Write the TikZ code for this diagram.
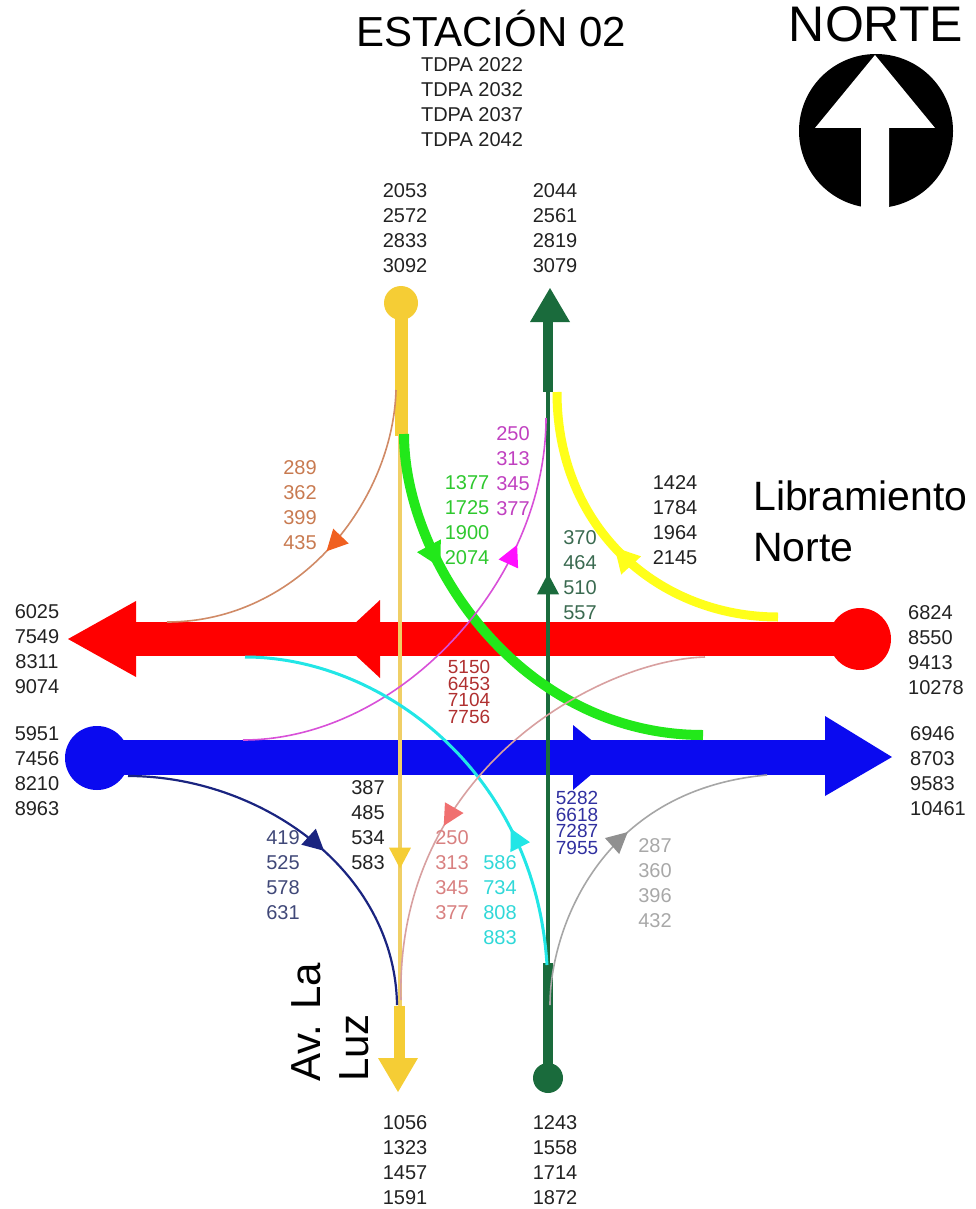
\documentclass[tikz,border=0pt]{standalone}
\usepackage{fontspec}
\setmainfont{Liberation Sans}
\usetikzlibrary{arrows.meta,decorations.markings}
\definecolor{cYel}{HTML}{F5CD35}
\definecolor{cYelT}{HTML}{F0CF66}
\definecolor{cDG}{HTML}{1A6B3C}
\definecolor{cRed}{HTML}{FF0000}
\definecolor{cBlue}{HTML}{0A0AF0}
\definecolor{cGrn}{HTML}{22E81A}
\definecolor{cYC}{HTML}{FFFF1A}
\definecolor{cOrL}{HTML}{D08A66}
\definecolor{cOrA}{HTML}{F06020}
\definecolor{cMagL}{HTML}{D850D8}
\definecolor{cMagA}{HTML}{FF10FF}
\definecolor{cCy}{HTML}{22E6E6}
\definecolor{cSalL}{HTML}{D8A0A0}
\definecolor{cSalA}{HTML}{F07070}
\definecolor{cNavy}{HTML}{1A2480}
\definecolor{cGryL}{HTML}{A6A6A6}
\definecolor{cGryA}{HTML}{909090}
\definecolor{cTxt}{HTML}{222222}
\definecolor{tOr}{HTML}{C87A50}
\definecolor{tGrn}{HTML}{2EC82E}
\definecolor{tMag}{HTML}{C040C0}
\definecolor{tDG}{HTML}{3A6A50}
\definecolor{tRed}{HTML}{B03030}
\definecolor{tBlue}{HTML}{3030A0}
\definecolor{tNavy}{HTML}{404878}
\definecolor{tSal}{HTML}{D88080}
\definecolor{tCy}{HTML}{30D8D8}
\definecolor{tGry}{HTML}{A8A8A8}
\tikzset{
  midarrow/.style n args={3}{postaction={decorate,decoration={markings,
     mark=at position #1 with {\arrow[#2]{Triangle[length=#3pt,width=#3pt]}}}}},
  num/.style={font=\fontsize{20}{25}\selectfont, align=center, inner sep=0pt, text=cTxt},
  numtight/.style={num, font=\fontsize{19}{16.6}\selectfont},
  bigtext/.style={inner sep=0pt, text=black}
}
\begin{document}
\begin{tikzpicture}[x=1pt,y=-1pt]
\useasboundingbox (0,0) rectangle (976,1209);

% ---------- titles ----------
\node[bigtext, font=\fontsize{42}{50}\selectfont, anchor=base] (title) at (491,47) {ESTACIÓN 02};
\node[num] (tdpa) at (472,102) {TDPA 2022\\TDPA 2032\\TDPA 2037\\TDPA 2042};
\node[bigtext, font=\fontsize{50}{60}\selectfont, anchor=base] (norte) at (876,42) {NORTE};
\fill[black] (876,131) circle (77);
\fill[white] (875,55) -- (815,128) -- (861,128) -- (861,209) -- (889,209) -- (889,128) -- (935,128) -- cycle;

% ---------- coordinates ----------
\coordinate (yTop) at (401,303);
\coordinate (ySplit) at (401,436);
\coordinate (yLow) at (399,1006);
\coordinate (gTop) at (548,322);
\coordinate (gSplit) at (548,392);
\coordinate (gLow) at (548,963);
\coordinate (gBot) at (548,1078);
\coordinate (rEast) at (860,639);
\coordinate (bWest) at (97,758);

% ---------- red (westbound) ----------
\fill[cRed] (120,622) rectangle (rEast |- 0,656);
\fill[cRed] (rEast) circle (31);
\fill[cRed] (136,601) -- (68,639) -- (136,677) -- cycle;
\fill[cRed] (380,600) -- (338,639) -- (380,678) -- cycle;

% ---------- blue (eastbound) ----------
\fill[cBlue] (bWest |- 0,740) rectangle (827,775);
\fill[cBlue] (bWest) circle (32);
\fill[cBlue] (825,716) -- (892,757) -- (825,796) -- cycle;
\fill[cBlue] (573,725) -- (612,757) -- (573,790) -- cycle;

% ---------- yellow (southbound) ----------
\fill[cYel] (yTop) circle (17);
\draw[cYel, line width=13] (yTop) -- (ySplit);
\draw[cYelT, line width=3.5, midarrow={0.76}{cYel}{21}] (400,434) -- (400,1006);
\draw[cYel, line width=11] (yLow) -- (399,1060);
\fill[cYel] (378,1058) -- (398,1092) -- (418,1058) -- cycle;

% ---------- dark green (northbound) ----------
\fill[cDG] (530,322) -- (550,288) -- (570,322) -- cycle;
\draw[cDG, line width=10] (gTop) -- (gSplit);
\draw[cDG, line width=4, midarrow={0.68}{cDG}{21}] (gLow) -- (548,390);
\draw[cDG, line width=10] (gLow) -- (gBot);
\fill[cDG] (gBot) circle (15);

% ---------- turning movements ----------
\draw[cOrL, line width=1.6, midarrow={0.5}{cOrA}{21}] (396,390) .. controls (393,500) and (300,622) .. (167,622);
\draw[cGrn, line width=10, midarrow={0.3}{cGrn}{25}] (404,434) .. controls (404,560) and (520,735) .. (703,735);
\draw[cYC, line width=9, midarrow={0.52}{cYC}{25}] (778,617) .. controls (660,617) and (557,530) .. (557,392);
\draw[cMagL, line width=1.6, midarrow={0.73}{cMagA}{21}] (243,740) .. controls (400,740) and (546,580) .. (546,418);
\draw[cCy, line width=3, midarrow={0.3}{cCy}{21}] (547,965) .. controls (535,770) and (380,657) .. (245,657);
\draw[cSalL, line width=1.6, midarrow={0.64}{cSalA}{21}] (705,657) .. controls (600,660) and (395,770) .. (401,1000);
\draw[cNavy, line width=2.2, midarrow={0.55}{cNavy}{21}] (128,776) .. controls (260,776) and (395,870) .. (397,1005);
\draw[cGryL, line width=1.6, midarrow={0.56}{cGryA}{21}] (550,1005) .. controls (550,930) and (600,790) .. (767,775);

% ---------- volumes ----------
\node[num] (nS) at (405,228) {2053\\2572\\2833\\3092};
\node[num] (nN) at (555,228) {2044\\2561\\2819\\3079};
\node[num] (sS) at (405,1160) {1056\\1323\\1457\\1591};
\node[num] (sN) at (555,1160) {1243\\1558\\1714\\1872};
\node[num] (wW) at (37,649) {6025\\7549\\8311\\9074};
\node[num] (wE) at (37,771) {5951\\7456\\8210\\8963};
\node[num, align=left, anchor=west] (eW) at (908,650) {6824\\8550\\9413\\10278};
\node[num, align=left, anchor=west] (eE) at (910,771) {6946\\8703\\9583\\10461};

\node[num, text=tOr] (lOr) at (300,505) {289\\362\\399\\435};
\node[num, text=tGrn] (lGr) at (467,520) {1377\\1725\\1900\\2074};
\node[num, text=tMag] (lMg) at (513,471) {250\\313\\345\\377};
\node[num, text=tDG] (lDG) at (580,575) {370\\464\\510\\557};
\node[num] (lYC) at (675,520) {1424\\1784\\1964\\2145};
\node[numtight, text=tRed] (lRd) at (469,692) {5150\\6453\\7104\\7756};
\node[numtight, text=tBlue] (lBl) at (577,823) {5282\\6618\\7287\\7955};
\node[num, text=tNavy] (lNv) at (283,875) {419\\525\\578\\631};
\node[num] (lYl) at (368,825) {387\\485\\534\\583};
\node[num, text=tSal] (lSl) at (452,875) {250\\313\\345\\377};
\node[num, text=tCy] (lCy) at (500,900) {586\\734\\808\\883};
\node[num, text=tGry] (lGy) at (655,883) {287\\360\\396\\432};

% ---------- street names ----------
\node[bigtext, font=\fontsize{41}{50}\selectfont, anchor=base west] (lib1) at (753,510) {Libramiento};
\node[bigtext, font=\fontsize{41}{50}\selectfont, anchor=base west] (lib2) at (753,561) {Norte};
\node[bigtext, font=\fontsize{42}{50}\selectfont, rotate=90, anchor=base west] (av1) at (320,1082) {Av. La};
\node[bigtext, font=\fontsize{42}{50}\selectfont, rotate=90, anchor=base west] (av2) at (368,1082) {Luz};
\end{tikzpicture}
\end{document}
